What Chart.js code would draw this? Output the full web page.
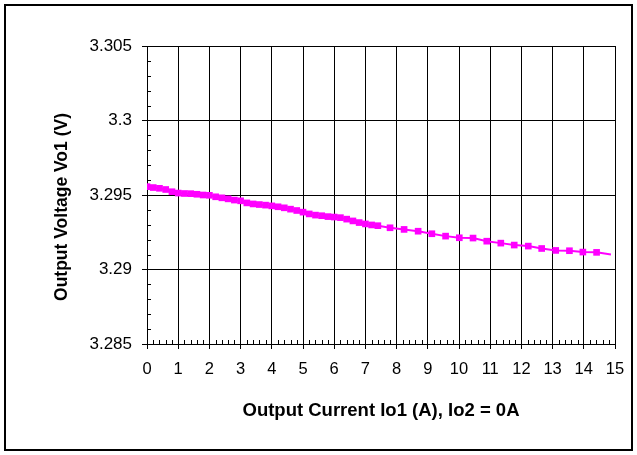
<!DOCTYPE html>
<html>
<head>
<meta charset="utf-8">
<script src="https://cdn.jsdelivr.net/npm/chart.js@4/dist/chart.umd.min.js"></script>
<style>
html,body{margin:0;padding:0;background:#fff;}
#wrap{width:637px;height:455px;position:relative;}
</style>
</head>
<body>
<div id="wrap"><canvas id="c" width="637" height="455"></canvas></div>
<script>
const currentA = [0, 0.2, 0.4, 0.6, 0.8, 1.0, 1.2, 1.4, 1.6, 1.8, 2.0, 2.2, 2.4, 2.6, 2.8, 3.0, 3.2, 3.4, 3.6, 3.8, 4.0, 4.2, 4.4, 4.6, 4.8, 5.0, 5.2, 5.4, 5.6, 5.8, 6.0, 6.2, 6.4, 6.6, 6.8, 7.0, 7.2, 7.4, 7.79, 8.24, 8.69, 9.13, 9.57, 10.01, 10.45, 10.89, 11.34, 11.77, 12.22, 12.65, 13.1, 13.54, 13.97, 14.41, 14.87];
const voltageV = [3.29556, 3.2955, 3.29545, 3.29537, 3.29522, 3.29513, 3.2951, 3.29509, 3.29505, 3.295, 3.29498, 3.29488, 3.29481, 3.29474, 3.29466, 3.29461, 3.29447, 3.2944, 3.29436, 3.29432, 3.29427, 3.29421, 3.29414, 3.29405, 3.29396, 3.29385, 3.29373, 3.29365, 3.29361, 3.29355, 3.29352, 3.29348, 3.29338, 3.29326, 3.29315, 3.29306, 3.29299, 3.29294, 3.2928, 3.29269, 3.29257, 3.2924, 3.29224, 3.29213, 3.29211, 3.2919, 3.29177, 3.29164, 3.29157, 3.29141, 3.29128, 3.29126, 3.29117, 3.29115, 3.29101];
const xTicks = [0,1,2,3,4,5,6,7,8,9,10,11,12,13,14,15];
const yTicks = [3.285, 3.29, 3.295, 3.3, 3.305];
const yTickLabels = ['3.285', '3.29', '3.295', '3.3', '3.305'];
const xTitle = 'Output Current Io1 (A), Io2 = 0A';
const yTitle = 'Output Voltage Vo1 (V)';

const pts = currentA.map((x, i) => ({x: x, y: voltageV[i]}));
const radii = currentA.map((x, i) => i === currentA.length - 1 ? 0 : 4.7);

const FONT = "'Liberation Sans', Arial, sans-serif";

const extras = {
  id: 'extras',
  afterDraw(chart) {
    const ctx = chart.ctx;
    const xs = chart.scales.x, ys = chart.scales.y;
    const area = chart.chartArea;
    ctx.save();
    ctx.strokeStyle = '#000';
    ctx.lineWidth = 1;
    ctx.beginPath();
    for (let k = 0; k <= 75; k++) {
      if (k % 5 === 0) continue;
      const px = Math.round(xs.getPixelForValue(k * 0.2)) + 0.5;
      ctx.moveTo(px, area.bottom);
      ctx.lineTo(px, area.bottom - 4);
    }
    for (let k = 0; k <= 20; k++) {
      if (k % 5 === 0) continue;
      const py = Math.round(ys.getPixelForValue(3.285 + k * 0.001)) + 0.5;
      ctx.moveTo(area.left, py);
      ctx.lineTo(area.left + 4, py);
    }
    ctx.stroke();
    ctx.lineWidth = 2;
    ctx.strokeRect(5, 5, 627, 445);
    // y-axis title, slightly below the plot centre as in the reference
    ctx.translate(62, (area.top + area.bottom) / 2 + 12);
    ctx.rotate(-Math.PI / 2);
    ctx.fillStyle = '#000';
    ctx.font = 'bold 17.5px ' + FONT;
    ctx.textAlign = 'center';
    ctx.textBaseline = 'middle';
    ctx.fillText(yTitle, 0, 0);
    ctx.restore();
  }
};

new Chart(document.getElementById('c'), {
  type: 'line',
  data: {
    datasets: [{
      data: pts,
      borderColor: '#FF00FF',
      backgroundColor: '#FF00FF',
      borderWidth: 2,
      pointStyle: 'rect',
      pointRadius: radii,
      pointBorderWidth: 0,
      pointHoverRadius: radii,
      tension: 0
    }]
  },
  options: {
    responsive: false,
    animation: false,
    devicePixelRatio: 1,
    layout: {padding: {left: 0, right: 22, top: 46, bottom: 0}},
    plugins: {legend: {display: false}, tooltip: {enabled: false}},
    scales: {
      x: {
        type: 'linear',
        min: 0, max: 15,
        afterBuildTicks: s => { s.ticks = xTicks.map(v => ({value: v})); },
        afterFit: s => { s.height = 111; },
        ticks: {
          color: '#000',
          font: {family: FONT, size: 16.5},
          padding: 11,
          maxRotation: 0,
          autoSkip: false,
          callback: v => String(v)
        },
        grid: {color: '#000', lineWidth: 1, tickLength: 5, tickColor: '#000'},
        border: {display: true, color: '#000', width: 1},
        title: {
          display: true,
          text: xTitle,
          color: '#000',
          font: {family: FONT, size: 18.5, weight: 'bold'},
          padding: {top: 0, bottom: 33}
        }
      },
      y: {
        type: 'linear',
        min: 3.285, max: 3.305,
        afterBuildTicks: s => { s.ticks = yTicks.map(v => ({value: v})); },
        afterFit: s => { s.width = 147; },
        ticks: {
          color: '#000',
          font: {family: FONT, size: 17},
          padding: 10,
          autoSkip: false,
          callback: (v, i) => yTickLabels[i]
        },
        grid: {color: '#000', lineWidth: 1, tickLength: 5, tickColor: '#000'},
        border: {display: true, color: '#000', width: 1},
        title: {display: false}
      }
    }
  },
  plugins: [extras]
});
</script>
</body>
</html>
